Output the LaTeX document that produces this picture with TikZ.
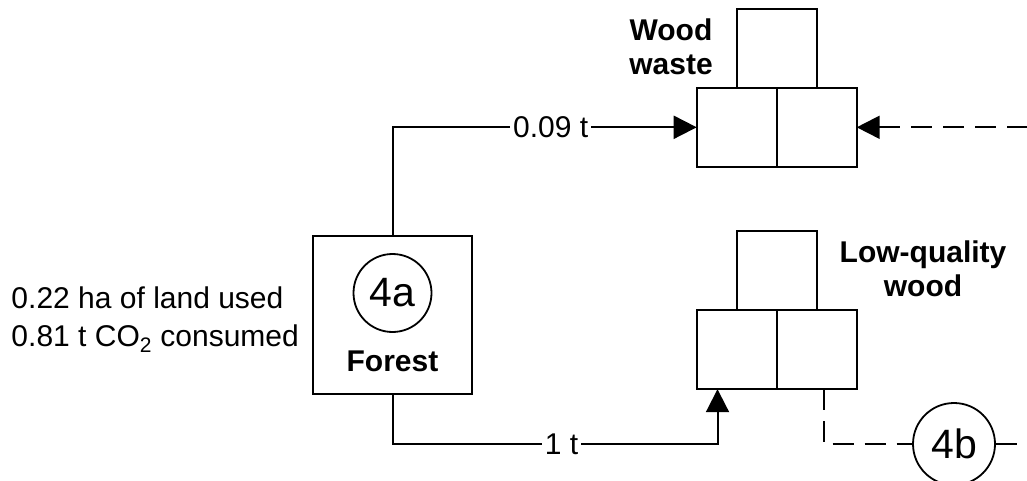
\documentclass[tikz,border=0pt]{standalone}
\usepackage{fontspec}
\setmainfont{Liberation Sans}
\usetikzlibrary{arrows.meta, positioning}

\begin{document}
\begin{tikzpicture}[
    x=1pt, y=-1pt,
    line width=2pt,
    box/.style={draw, minimum width=159pt, minimum height=158pt, inner sep=0pt},
    cell/.style={draw, minimum width=80pt, minimum height=79pt, inner sep=0pt, outer sep=0pt},
    proc/.style={circle, draw, line width=1.8pt, inner sep=0pt, font=\fontsize{41}{41}\selectfont},
    tag/.style={align=center, font=\fontsize{30}{33.5}\selectfont\bfseries},
    note/.style={align=left, inner sep=0pt, font=\fontsize{30}{38}\selectfont},
    qty/.style={fill=white, inner sep=3pt, font=\fontsize{30}{34}\selectfont},
    fw/.style={-{Triangle[length=23pt, width=23pt]}},
    dsh/.style={dash pattern=on 21pt off 11pt},
  ]
  \useasboundingbox (0,0) rectangle (1027,481);

  % forest source
  \node[box] (forest) at (392.5,315) {};
  \node[proc, minimum size=78pt] (c4a) at (392.5,293) {4a};
  \node[tag] (forestTag) at (392.5,361) {Forest};
  \node[note, anchor=west] (land) at (10.5,320) {0.22 ha of land used\\0.81 t CO\textsubscript{2} consumed};

  % wood waste store: two cells with one on top
  \node[cell] (wwL) at (736.7,127.3) {};
  \node[cell, right=0pt of wwL] (wwR) {};
  \node[cell, above=0pt of wwL.north east] (wwT) {};
  \node[tag] (wwTag) at (671,47) {Wood\\waste};

  % low-quality wood store
  \node[cell] (lqL) at (736.5,349.7) {};
  \node[cell, right=0pt of lqL] (lqR) {};
  \node[cell, above=0pt of lqL.north east] (lqT) {};
  \node[tag] (lqTag) at (923,269) {Low-quality\\wood};

  \node[proc, minimum size=82pt] (c4b) at (954,444) {4b};

  \coordinate (lqIn) at ([xshift=21pt]lqL.south west);
  \coordinate (lqOut) at ([xshift=7pt]lqR.south);
  \coordinate (wwFeed) at ([xshift=171pt]wwR.east);
  \coordinate (c4bOut) at ([xshift=32pt]c4b.east);

  \draw[fw] (forest.north) |- (wwL.west) node[qty, pos=0.76] {0.09 t};
  \draw[fw] (forest.south) |- (lqIn |- c4b) node[qty, pos=0.76] {1 t} -- (lqIn);
  \draw[fw, dsh] (wwFeed) -- (wwR.east);
  \draw[dsh] (lqOut) |- (c4b.west);
  \draw[dsh] (c4b.east) -- (c4bOut);
\end{tikzpicture}
\end{document}
